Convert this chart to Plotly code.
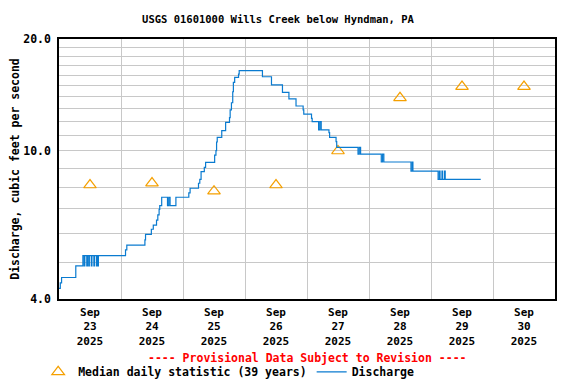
import pandas as pd
import plotly.graph_objects as go

# ---- data ----
start = pd.Timestamp("2025-09-23 00:00")
hours = [0.0, 0.5, 1.0, 6.5, 9.25, 9.75, 10.0, 10.75, 11.0, 11.5, 11.75, 12.5, 12.75,
         13.5, 13.75, 14.5, 14.75, 15.0, 15.25, 25.75, 26.25, 33.25, 33.5, 35.75,
         36.5, 37.75, 38.25, 38.75, 39.0, 39.75, 42.0, 42.5, 43.0, 45.25, 50.25, 50.75,
         54.0, 54.5, 55.0, 56.25, 56.75, 60.25, 60.75, 61.0, 61.25, 63.0, 64.5, 66.0,
         66.25, 66.75, 67.25, 67.5, 68.0, 69.5, 69.75, 78.75, 82.25, 86.5, 89.0, 91.75,
         94.5, 94.75, 97.75, 98.0, 100.5, 101.0, 101.5, 104.5, 104.75, 107.25, 107.5,
         115.75, 116.25, 116.75, 124.75, 125.25, 125.75,
         136.25, 136.75, 137.0, 146.75, 147.25, 147.5, 148.25, 148.5, 149.25, 149.5, 163.25]
discharge = [4.27, 4.42, 4.57, 4.91, 5.23, 4.91, 5.23, 4.91, 5.23, 4.91, 5.23, 4.91, 5.23,
             4.91, 5.23, 4.91, 5.23, 4.91, 5.23, 5.42, 5.58, 5.77, 5.97, 6.16,
             6.32, 6.52, 6.73, 6.97, 7.13, 7.51, 7.13, 7.51, 7.13, 7.51, 7.72, 7.94,
             8.19, 8.39, 8.80, 9.04, 9.32, 9.75, 10.02, 10.57, 10.88, 11.34, 11.94, 12.29,
             12.89, 13.48, 14.43, 15.3, 15.78, 16.1, 16.44, 15.83, 15.05, 14.38, 13.8, 13.21,
             12.89, 12.57, 12.24, 11.99, 11.39, 11.99, 11.39, 11.2, 10.88, 10.59, 10.23,
             9.81, 10.23, 9.81, 9.34, 9.81, 9.34,
             8.83, 9.34, 8.83, 8.39, 8.83, 8.39, 8.83, 8.39, 8.83, 8.39, 8.39]

median_days = ["2025-09-23", "2025-09-24", "2025-09-25", "2025-09-26",
               "2025-09-27", "2025-09-28", "2025-09-29", "2025-09-30"]
median_values = [8.1, 8.2, 7.8, 8.1, 10.0, 13.9, 14.9, 14.9]

tick_month = "Sep"
tick_days = ["23", "24", "25", "26", "27", "28", "29", "30"]
tick_year = "2025"

y_ticks = [4, 10, 20]
y_ticktext = ["4.0", "10.0", "20.0"]
y_minor = [5, 6, 7, 8, 9, 11, 12, 13, 14, 15, 16, 17, 18, 19]

# ---- build ----
times = [start + pd.Timedelta(hours=h) for h in hours]
median_times = [pd.Timestamp(d) + pd.Timedelta(hours=12) for d in median_days]

FONT = "DejaVu Sans Mono"
PAGE_OFF = 8  # default body margin of the html page
W, H = 576 - PAGE_OFF, 384 - PAGE_OFF

fig = go.Figure()
fig.add_trace(go.Scatter(
    x=median_times, y=median_values, mode="markers",
    name="Median daily statistic (39 years)",
    marker=dict(symbol="triangle-up-open", size=11, color="#F5A000", line=dict(width=1.2)),
))
fig.add_trace(go.Scatter(
    x=times, y=discharge, mode="lines", line_shape="hv",
    name="Discharge", line=dict(color="#0A7BD0", width=1.2),
))

fig.update_layout(
    width=W, height=H,
    margin=dict(l=59 - PAGE_OFF, r=21, t=39 - PAGE_OFF, b=85, autoexpand=False),
    paper_bgcolor="white", plot_bgcolor="white",
    font=dict(family=FONT, size=11.5, color="black", weight="bold"),
    title=dict(text="USGS 01601000 Wills Creek below Hyndman, PA",
               x=(278 - PAGE_OFF) / W, xanchor="center",
               y=1 - (19 - PAGE_OFF) / H, yanchor="middle",
               font=dict(family=FONT, size=10.5, color="black", weight="bold")),
    showlegend=True,
    legend=dict(orientation="h", x=-0.042, xanchor="left", y=-0.28, yanchor="middle",
                font=dict(family=FONT, size=11.5, color="black", weight="bold"),
                bgcolor="rgba(0,0,0,0)", itemwidth=30),
)

fig.update_xaxes(
    automargin=False,
    range=[start, start + pd.Timedelta(days=8)],
    tickvals=median_times,
    ticktext=[f"{tick_month}<br>{d}<br>{tick_year}" for d in tick_days],
    showgrid=False, ticks="outside", ticklen=2, tickcolor="rgba(0,0,0,0)",
    minor=dict(dtick=86400000, tick0=start, showgrid=True, gridcolor="#C8C8C8", gridwidth=1),
    showline=True, linecolor="black", linewidth=1.5, mirror=True,
    tickfont=dict(family=FONT, size=11, color="black", weight="bold"),
)
fig.update_yaxes(
    automargin=False,
    type="log", range=[0.60206, 1.30103],
    tickvals=y_ticks, ticktext=y_ticktext,
    showgrid=True, gridcolor="#C8C8C8", gridwidth=1,
    minor=dict(tickvals=y_minor, showgrid=True, gridcolor="#C8C8C8", gridwidth=1, ticks=""),
    ticks="outside", ticklen=4, tickcolor="rgba(0,0,0,0)",
    showline=True, linecolor="black", linewidth=1.5, mirror=True,
    title=dict(text="Discharge, cubic feet per second", standoff=9,
               font=dict(family=FONT, size=11.5, color="black", weight="bold")),
    tickfont=dict(family=FONT, size=11.5, color="black", weight="bold"),
)

fig.add_annotation(
    text="---- Provisional Data Subject to Revision ----",
    xref="paper", yref="paper", x=0.5, y=(299 - 358) / 260,
    xanchor="center", yanchor="middle", showarrow=False,
    font=dict(family=FONT, size=11.5, color="#FF0000", weight="bold"),
)

fig.write_html("out.html")
